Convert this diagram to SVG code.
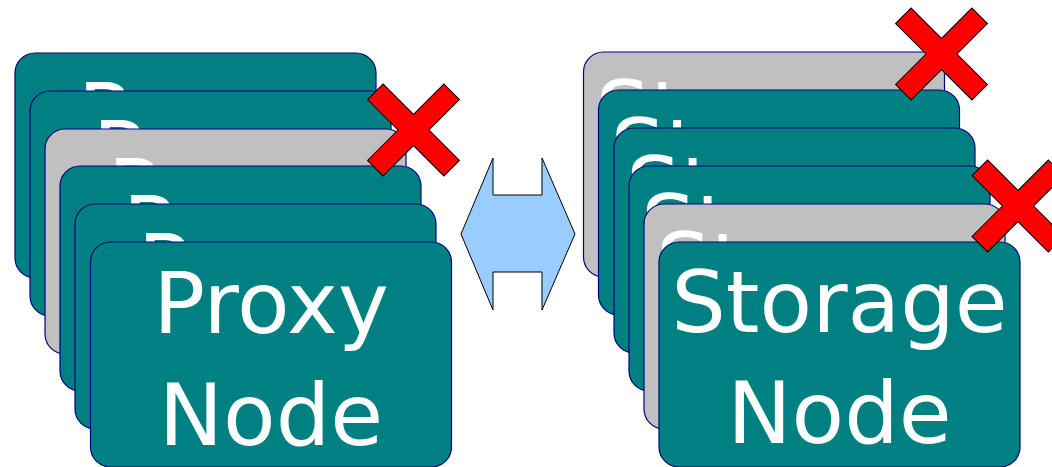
<svg xmlns="http://www.w3.org/2000/svg" xmlns:xlink="http://www.w3.org/1999/xlink" width="1052" height="467" viewBox="0 0 1052 467">
<style>
.card{stroke:#000080;stroke-width:1.2}
.teal{fill:#008080}
.gray{fill:#c0c0c0}
.lbl{font-family:"DejaVu Sans",sans-serif;font-size:86px;fill:#ffffff;text-anchor:middle}
.xm{fill:#ff0000;stroke:#000000;stroke-width:1}
.arr{fill:#99ccff;stroke:#000000;stroke-width:1}
</style>
<defs>
<polygon id="xshape" points="-11,-54 11,-54 11,-11 54,-11 54,11 11,11 11,54 -11,54 -11,11 -54,11 -54,-11 -11,-11"/>
</defs>
<rect width="1052" height="467" fill="#ffffff"/>
<g id="proxy-stack">
<g id="proxy1"><rect class="card teal" x="15" y="53" width="361" height="225" rx="20"/><text class="lbl" x="195.5" y="144">Proxy</text><text class="lbl" x="195.5" y="256">Node</text></g>
<g id="proxy2"><rect class="card teal" x="30" y="91" width="361" height="225" rx="20"/><text class="lbl" x="210.5" y="182">Proxy</text><text class="lbl" x="210.5" y="294">Node</text></g>
<g id="proxy3"><rect class="card gray" x="45" y="129" width="361" height="225" rx="20"/><text class="lbl" x="225.5" y="220">Proxy</text><text class="lbl" x="225.5" y="332">Node</text></g>
<g id="proxy4"><rect class="card teal" x="60" y="166" width="361" height="225" rx="20"/><text class="lbl" x="240.5" y="257">Proxy</text><text class="lbl" x="240.5" y="369">Node</text></g>
<g id="proxy5"><rect class="card teal" x="75" y="204" width="361" height="225" rx="20"/><text class="lbl" x="255.5" y="295">Proxy</text><text class="lbl" x="255.5" y="407">Node</text></g>
<g id="proxy6"><rect class="card teal" x="90.5" y="242" width="361" height="225" rx="20"/><text class="lbl" x="271" y="333">Proxy</text><text class="lbl" x="271" y="445">Node</text></g>
</g>
<g id="storage-stack">
<g id="storage1"><rect class="card gray" x="583.5" y="52" width="361" height="225" rx="20"/><text class="lbl" x="764" y="142">Storage</text><text class="lbl" x="764" y="253">Node</text></g>
<g id="storage2"><rect class="card teal" x="598.5" y="90" width="361" height="225" rx="20"/><text class="lbl" x="779" y="180">Storage</text><text class="lbl" x="779" y="291">Node</text></g>
<g id="storage3"><rect class="card teal" x="614" y="128" width="361" height="225" rx="20"/><text class="lbl" x="794.5" y="218">Storage</text><text class="lbl" x="794.5" y="329">Node</text></g>
<g id="storage4"><rect class="card teal" x="629" y="166" width="361" height="225" rx="20"/><text class="lbl" x="809.5" y="256">Storage</text><text class="lbl" x="809.5" y="367">Node</text></g>
<g id="storage5"><rect class="card gray" x="644" y="204" width="361" height="225" rx="20"/><text class="lbl" x="824.5" y="294">Storage</text><text class="lbl" x="824.5" y="405">Node</text></g>
<g id="storage6"><rect class="card teal" x="659" y="242" width="361" height="225" rx="20"/><text class="lbl" x="839.5" y="332">Storage</text><text class="lbl" x="839.5" y="443">Node</text></g>
</g>
<g id="failures">
<use xlink:href="#xshape" class="xm" transform="translate(413.5,130) rotate(45)"/>
<use xlink:href="#xshape" class="xm" transform="translate(941.5,54) rotate(45)"/>
<use xlink:href="#xshape" class="xm" transform="translate(1018,206) rotate(45)"/>
</g>
<g id="connectors">
<polygon class="arr" points="461,234 493,158 493,195 542,195 542,158 575,234 542,310 542,272 493,272 493,310"/>
</g>
</svg>
